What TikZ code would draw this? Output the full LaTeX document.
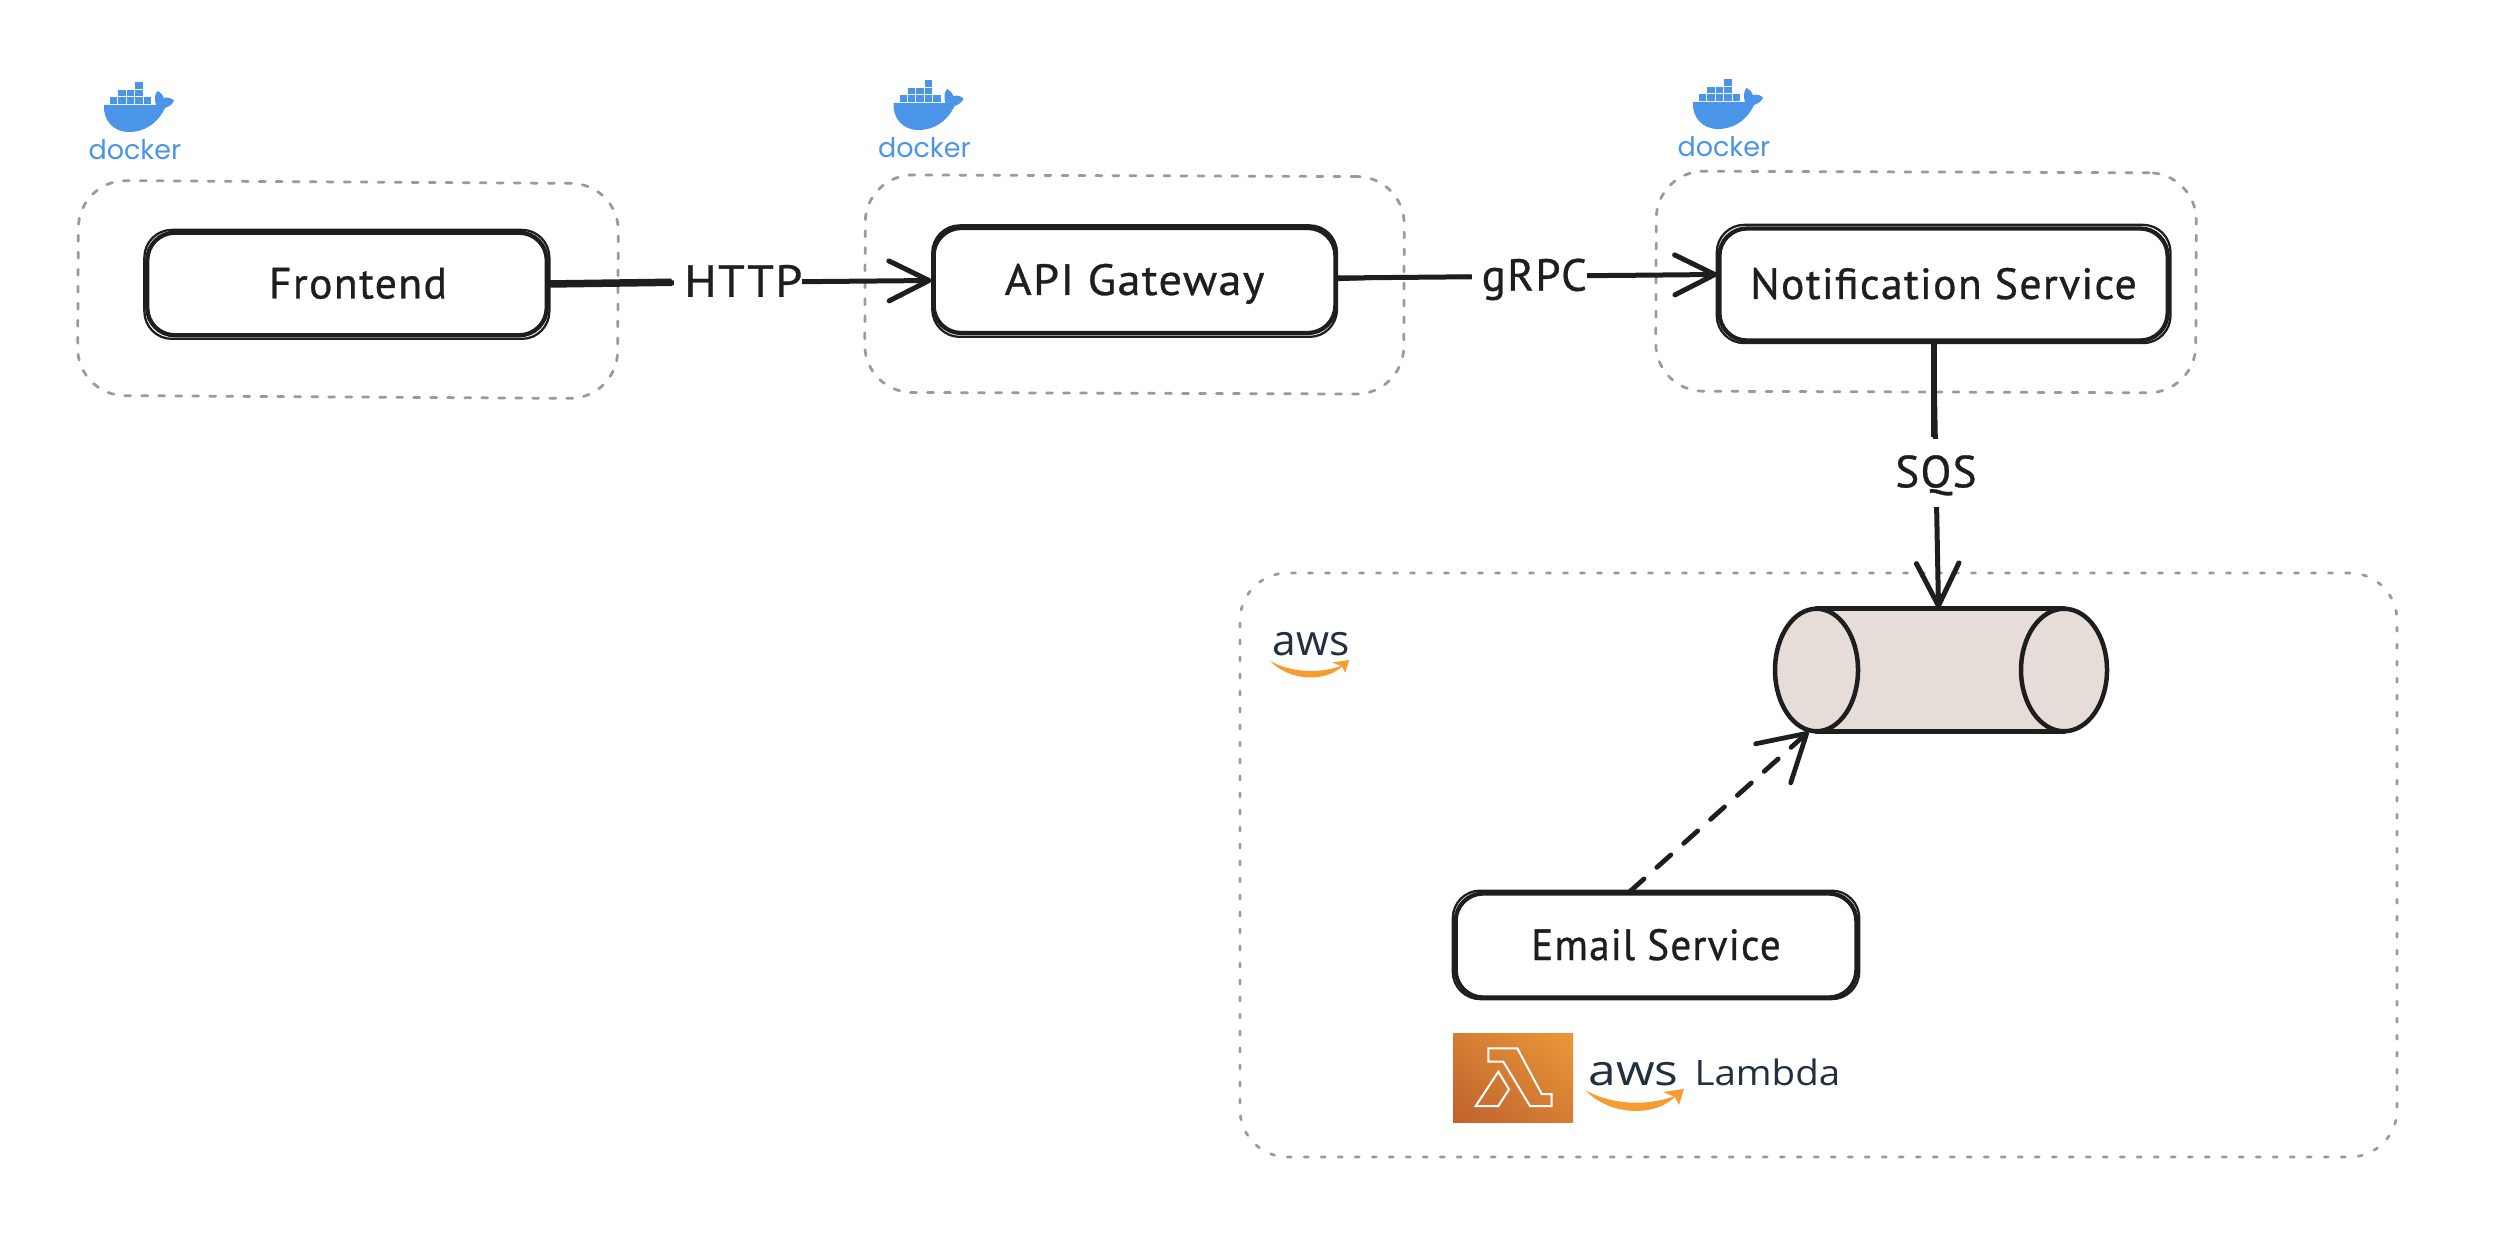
\documentclass[tikz,border=0pt]{standalone}
\usepackage{fontspec}
\setmainfont{PT Sans}[LetterSpace=3,FakeBold=0.7]
\newfontfamily\logofont{Poppins}
\newfontfamily\lamfont{Open Sans}
\usetikzlibrary{arrows.meta,shapes.geometric,calc,shadings}
\definecolor{ink}{HTML}{1E1E1E}
\definecolor{dashgray}{HTML}{9A9A9A}
\definecolor{dockerblue}{HTML}{4A95E8}
\definecolor{awsnavy}{HTML}{232F3E}
\definecolor{awsorange}{HTML}{F79C2E}
\definecolor{cylfill}{HTML}{E6DCD8}
\definecolor{lamdark}{HTML}{BF622E}
\definecolor{lamlight}{HTML}{EA9838}
\tikzset{
  box/.style={draw=ink,line width=1.7pt,rounded corners=11pt,fill=white,inner sep=0pt,
    text height=14.4pt,text depth=2.8pt,font=\fontsize{17.5}{19}\selectfont,text=ink},
  boxover/.style={draw=ink,line width=.9pt,rounded corners=11pt},
  group/.style={draw=dashgray,line width=1.1pt,line cap=round,dash pattern=on 2.4pt off 4.4pt,
    rounded corners=19pt,inner sep=0pt},
  conn/.style={draw=ink,line width=2pt,line cap=round,line join=round},
  open/.style={-{Straight Barb[length=#1,width=#1,line width=2pt,round]}},
  lab/.style={fill=white,inner sep=0pt,text=ink,text height=14.4pt,text depth=2.8pt,font=\fontsize{18}{20}\selectfont},
  dockertext/.style={text=dockerblue,inner sep=0pt,anchor=base west,font=\logofont\fontsize{10.8}{12}\selectfont},
  awstext/.style={text=awsnavy,inner sep=0pt,anchor=base west},
}
\newcommand{\dockerlogo}[3]{%
  \begin{scope}[shift={(#1,#2)}]
    \foreach \cx/\cy in {110/97,118.4/97,126.8/97,135.2/97,143.6/97,118.4/89.7,126.8/89.7,135.2/89.7,135.2/82}
      \fill[dockerblue] (\cx,\cy) rectangle ++(7.4,6.6);
    \fill[dockerblue] (104,105) -- (156,105) .. controls (154,98) and (155,94) .. (157.6,91)
      .. controls (161,93) and (163,95) .. (164,98) .. controls (168,97) and (172,98) .. (174,101)
      .. controls (172,105) and (168,107) .. (165,108) .. controls (158,123) and (145,132) .. (129,132)
      .. controls (113,132) and (103,120) .. (104,105) -- cycle;
    \node[dockertext] (#3) at (88,160) {docker};
  \end{scope}}
\newcommand{\awssmile}[3]{%
  \begin{scope}[shift={(#1,#2)},scale=#3]
    \fill[awsorange] (0,1) .. controls (28,17) and (66,17) .. (92,6) .. controls (72,28) and (26,28) .. (0,1) -- cycle;
    \fill[awsorange] (78,3) -- (99,0) -- (94,16) -- (90,8) -- cycle;
  \end{scope}}
\begin{document}
\begin{tikzpicture}[x=.4pt,y=-.4pt]
\useasboundingbox (0,0) rectangle (2516,1244);
% groups
\node[group,minimum width=216pt,minimum height=86pt,rotate=-.35] (gf) at (348,289.5) {};
\node[group,minimum width=215.6pt,minimum height=87pt,rotate=-.2] (ga) at (1134.5,284.5) {};
\node[group,minimum width=216pt,minimum height=88pt,rotate=-.2] (gn) at (1926,282) {};
\node[group,minimum width=462.8pt,minimum height=233.6pt,dash pattern=on 1.6pt off 5.2pt] (gw) at (1818.5,865) {};
% logos
\dockerlogo{0}{0}{dk1}
\dockerlogo{789.5}{-2}{dk2}
\dockerlogo{1589}{-3}{dk3}
\node[awstext,font=\lamfont\fontsize{17}{19}\selectfont] (awsa) at (1272,655) {aws};
\awssmile{1270}{660}{.8}
% lambda
\shade[lower left=lamdark,upper right=lamlight,lower right=lamdark!50!lamlight,upper left=lamdark!50!lamlight]
  (1453,1033) rectangle (1573,1122);
\draw[white,line width=.8pt,line join=miter] (1488.3,1048.3) -- (1517.3,1048.3) -- (1541.7,1094) -- (1551.7,1094) -- (1551.7,1106)
  -- (1530,1106) -- (1503.3,1061.7) -- (1488.3,1061.7) -- cycle;
\draw[white,line width=.8pt,line join=miter] (1498.3,1071.7) -- (1509,1089.3) -- (1498.3,1106) -- (1475.7,1106) -- cycle;
\node[awstext,font=\lamfont\fontsize{17}{19}\selectfont] (awsb) at (1588,1085) {\scalebox{1.17}[1]{aws}};
\node[awstext,font=\lamfont\fontsize{14}{15}\selectfont] (lambdat) at (1694,1085) {\scalebox{1.1}[1]{Lambda}};
\awssmile{1585}{1089}{1}
% boxes
\node[box,minimum width=159.8pt,minimum height=41pt] (front) at (347,284) {\hspace{8.8pt}Frontend};
\node[box,minimum width=160.7pt,minimum height=42pt] (api) at (1134.5,280.5) {\scalebox{1.06}[1]{API Gateway}};
\node[box,minimum width=179.3pt,minimum height=44.8pt] (notif) at (1943.5,284.5) {Notification Service};
\node[box,minimum width=160.3pt,minimum height=41.6pt] (email) at (1656,945.5) {\scalebox{.94}[1]{Email Service}};
% second sketch strokes
\draw[boxover] ([shift={(-.3pt,-.6pt)}]front.south west) rectangle ([shift={(.2pt,.3pt)}]front.north east);
\draw[boxover] ([shift={(.3pt,-.7pt)}]api.south west) rectangle ([shift={(-.2pt,.2pt)}]api.north east);
\draw[boxover] ([shift={(-.2pt,-.2pt)}]notif.south west) rectangle ([shift={(.3pt,.6pt)}]notif.north east);
\draw[boxover] ([shift={(-.3pt,.2pt)}]email.south west) rectangle ([shift={(.3pt,.3pt)}]email.north east);
% cylinder
\node[minimum width=132.8pt,minimum height=49pt,inner sep=0pt] (cyl) at (1941,670) {};
\node[ellipse,inner sep=0pt,minimum width=33.2pt,minimum height=49pt] (cl) at (1816.5,670) {};
\node[ellipse,inner sep=0pt,minimum width=34.4pt,minimum height=49pt] (cr) at (2064,670) {};
\fill[cylfill] (cl.north) rectangle (cr.south);
\draw[draw=ink,fill=cylfill,line width=1.8pt] (cl.center) ellipse [x radius=41.5,y radius=61.25];
\draw[draw=ink,fill=cylfill,line width=1.8pt] (cr.center) ellipse [x radius=43,y radius=61.25];
\draw[conn] (cl.north) -- (cr.north);
\draw[conn] (cl.south) -- (cr.south);
% connectors
\draw[conn,open=16pt] (front.east) -- node[lab,pos=.495] (lhttp) {\hspace{4pt}\scalebox{1.07}[1]{HTTP}\hspace{4pt}} (api.west);
\draw[conn,line width=3pt,line cap=butt] (front.east) -- (lhttp.west);
\draw[conn,open=16pt] ([yshift=1pt]api.east) -- node[lab,pos=.505] (lgrpc) {\hspace{4pt}gRPC\hspace{4pt}} ([yshift=4pt]notif.west);
\draw[conn,line width=.9pt] ([yshift=.2pt]api.east) -- ([yshift=.2pt]lgrpc.west);
\draw[conn,open=17pt] ([xshift=-4pt]notif.south) -- node[lab,pos=.49,minimum height=27pt] (lsqs) {SQS} ([xshift=-1pt]cyl.north);
\draw[conn,line width=2.4pt,line cap=butt] ([xshift=-4pt]notif.south) -- ([xshift=-4pt]notif.south |- lsqs.north);
\draw[conn,line width=1.9pt,dash pattern=on 7.5pt off 6.9pt,-{Straight Barb[length=18pt,width=21pt,line width=1.9pt,round]}] ([xshift=-10.4pt]email.north) -- ([xshift=-3.2pt]cl.south);
\end{tikzpicture}
\end{document}
